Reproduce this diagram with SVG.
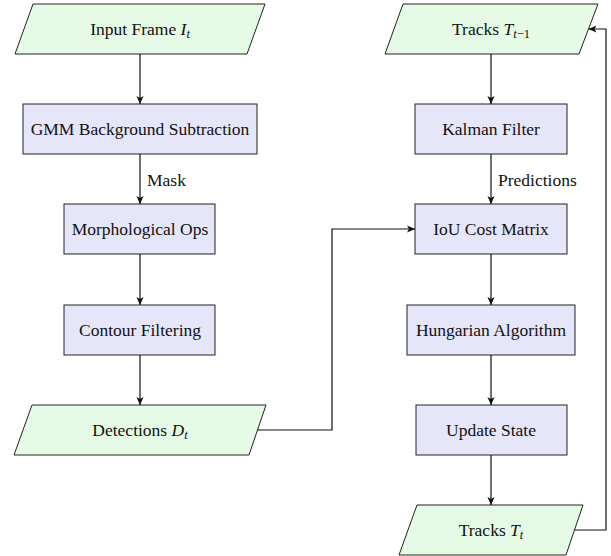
<svg xmlns="http://www.w3.org/2000/svg" width="611" height="556" viewBox="0 0 611 556">
  <defs>
    <marker id="arrow" viewBox="0 0 10 10" refX="10" refY="5" markerWidth="8" markerHeight="8" markerUnits="userSpaceOnUse" orient="auto">
      <path d="M0,0.5 L10,5 L0,9.5 L2.5,5 Z" fill="#111111"/>
    </marker>
  </defs>
  <style>
    .proc { fill: #e6e6fb; stroke: #222222; stroke-width: 1; }
    .io { fill: #e6fbe6; stroke: #222222; stroke-width: 1; }
    .edge { fill: none; stroke: #111111; stroke-width: 1.2; marker-end: url(#arrow); }
    text { font-family: "Liberation Serif", "DejaVu Serif", serif; font-size: 17.5px; fill: #111111; }
    .c { text-anchor: middle; }
    .m { font-style: italic; }
    .sub { font-size: 12.5px; }
  </style>
  <rect width="611" height="556" fill="#ffffff"/>

  <!-- left column: detection pipeline -->
  <g id="input-frame">
    <polygon class="io" points="33,4 265,4 247,54 15,54"/>
    <text class="c" x="140" y="35">Input Frame <tspan class="m">I</tspan><tspan class="m sub" dy="3">t</tspan></text>
  </g>
  <g id="gmm">
    <rect class="proc" x="23" y="104" width="234" height="50"/>
    <text class="c" x="140" y="135">GMM Background Subtraction</text>
  </g>
  <g id="morph">
    <rect class="proc" x="64" y="204" width="151" height="50"/>
    <text class="c" x="140" y="235">Morphological Ops</text>
  </g>
  <g id="contour">
    <rect class="proc" x="64" y="305" width="151" height="50"/>
    <text class="c" x="140" y="336">Contour Filtering</text>
  </g>
  <g id="detections">
    <polygon class="io" points="32,405 266,405 249,455 14,455"/>
    <text class="c" x="140" y="436">Detections <tspan class="m">D</tspan><tspan class="m sub" dy="3">t</tspan></text>
  </g>

  <!-- right column: tracking pipeline -->
  <g id="tracks-prev">
    <polygon class="io" points="403,4 598,4 579,54 385,54"/>
    <text class="c" x="491" y="35">Tracks <tspan class="m">T</tspan><tspan class="sub" dy="3"><tspan class="m">t</tspan>−1</tspan></text>
  </g>
  <g id="kalman">
    <rect class="proc" x="415" y="104" width="152" height="50"/>
    <text class="c" x="491" y="135">Kalman Filter</text>
  </g>
  <g id="iou">
    <rect class="proc" x="415" y="204" width="152" height="50"/>
    <text class="c" x="491" y="235">IoU Cost Matrix</text>
  </g>
  <g id="hungarian">
    <rect class="proc" x="407" y="305" width="168" height="50"/>
    <text class="c" x="491" y="336">Hungarian Algorithm</text>
  </g>
  <g id="update">
    <rect class="proc" x="416" y="405" width="151" height="50"/>
    <text class="c" x="491" y="436">Update State</text>
  </g>
  <g id="tracks-now">
    <polygon class="io" points="417,505 583,505 566,555 399,555"/>
    <text class="c" x="491" y="536">Tracks <tspan class="m">T</tspan><tspan class="m sub" dy="3">t</tspan></text>
  </g>

  <!-- connectors -->
  <g id="connectors">
    <line class="edge" x1="140" y1="54" x2="140" y2="104"/>
    <line class="edge" x1="140" y1="154" x2="140" y2="204"/>
    <text x="147" y="186">Mask</text>
    <line class="edge" x1="140" y1="254" x2="140" y2="305"/>
    <line class="edge" x1="140" y1="355" x2="140" y2="405"/>
    <polyline class="edge" points="257.5,430 332,430 332,229 415,229"/>
    <line class="edge" x1="491" y1="54" x2="491" y2="104"/>
    <line class="edge" x1="491" y1="154" x2="491" y2="204"/>
    <text x="498" y="186">Predictions</text>
    <line class="edge" x1="491" y1="254" x2="491" y2="305"/>
    <line class="edge" x1="491" y1="355" x2="491" y2="405"/>
    <line class="edge" x1="491" y1="455" x2="491" y2="505"/>
    <polyline class="edge" points="574.5,530 606,530 606,29 588.5,29"/>
  </g>
</svg>
